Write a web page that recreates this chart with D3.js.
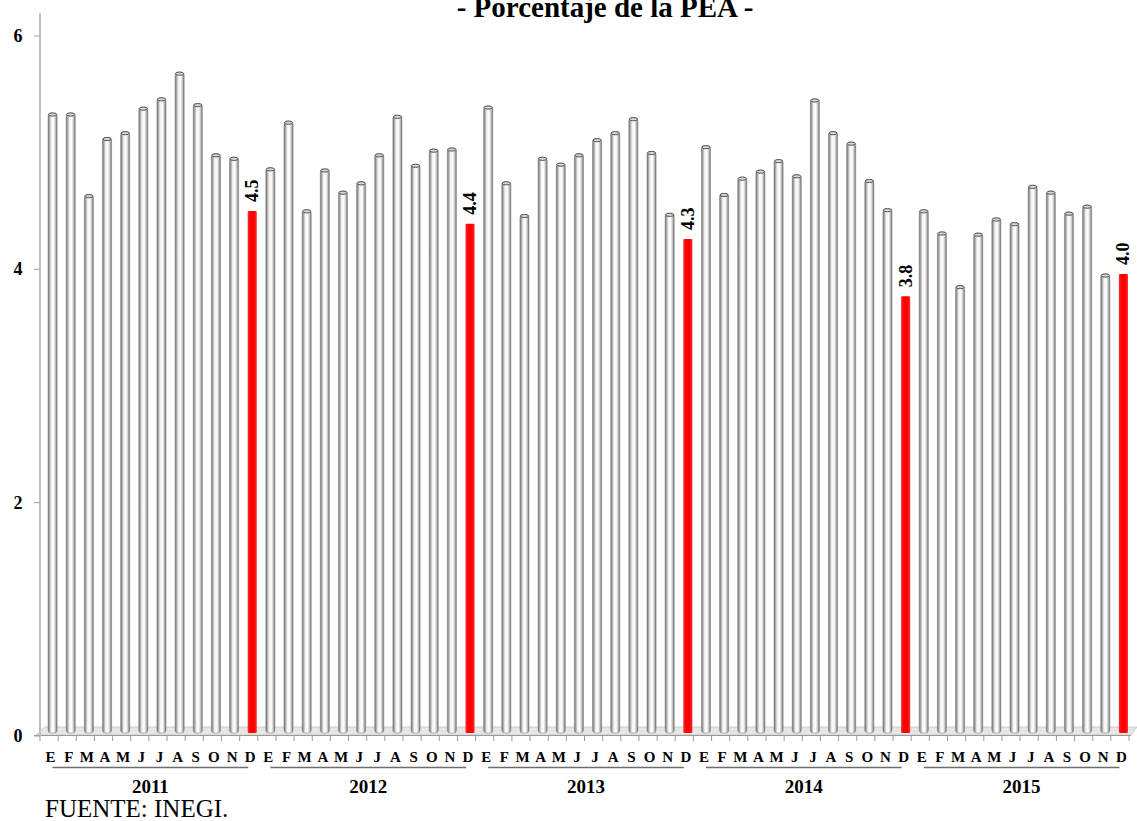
<!DOCTYPE html>
<html><head><meta charset="utf-8">
<script src="https://cdn.jsdelivr.net/npm/d3@7/dist/d3.min.js"></script>
<style>body{margin:0;background:#fff;}svg{display:block;font-family:"Liberation Serif","Times New Roman",serif;}</style>
</head><body>
<svg id="c" width="1137" height="821"></svg>
<script>
const title = "- Porcentaje de la PEA -";
const years = ["2011","2012","2013","2014","2015"];
const monthLabels = ["E","F","M","A","M","J","J","A","S","O","N","D"];
const v2011 = [5.34,5.34,4.64,5.13,5.18,5.39,5.47,5.69,5.42,4.99,4.96,4.50];
const v2012 = [4.87,5.27,4.51,4.86,4.67,4.75,4.99,5.32,4.90,5.03,5.04,4.39];
const v2013 = [5.40,4.75,4.47,4.96,4.91,4.99,5.12,5.18,5.30,5.01,4.48,4.26];
const v2014 = [5.06,4.65,4.79,4.85,4.94,4.81,5.46,5.18,5.09,4.77,4.52,3.77];
const v2015 = [4.51,4.32,3.86,4.31,4.44,4.40,4.72,4.67,4.49,4.55,3.96,3.96];
const decLabels = ["4.5","4.4","4.3","3.8","4.0"];
const yTicks = [0,2,4,6];
const source = "FUENTE: INEGI.";

const series = [v2011,v2012,v2013,v2014,v2015];
const data = [];
series.forEach((arr,yi)=>arr.forEach((v,mi)=>data.push({id:yi*12+mi, year:years[yi], m:mi, v:v, dec:mi===11, label: mi===11?decLabels[yi]:null})));

const svg = d3.select("#c");
const y = d3.scaleLinear().domain([0,6]).range([736,36]);
const x = d3.scaleBand().domain(data.map(d=>d.id)).range([43.5,1132.5]).paddingInner(0.5).paddingOuter(0.25);

const defs = svg.append("defs");
const g1 = defs.append("linearGradient").attr("id","cyl").attr("x1","0").attr("x2","1").attr("y1","0").attr("y2","0");
[[0,"#666"],[0.18,"#b0b0b0"],[0.35,"#f2f2f2"],[0.6,"#ffffff"],[0.8,"#c8c8c8"],[1,"#666"]].forEach(s=>g1.append("stop").attr("offset",s[0]).attr("stop-color",s[1]));
const g2 = defs.append("linearGradient").attr("id","red").attr("x1","0").attr("x2","1");
[[0,"#f03030"],[0.3,"#ff0000"],[0.7,"#ff0000"],[1,"#f03030"]].forEach(s=>g2.append("stop").attr("offset",s[0]).attr("stop-color",s[1]));

// title
svg.append("text").attr("x",605).attr("y",17).attr("text-anchor","middle").attr("font-weight","bold").attr("font-size",29).text(title);

// floor
svg.append("polygon").attr("points","45,727 1137,727 1131,735 36,735").attr("fill","#e6e6e6").attr("stroke","#cccccc");
svg.append("line").attr("x1",34).attr("x2",1131).attr("y1",735.5).attr("y2",735.5).attr("stroke","#9a9a9a").attr("stroke-width",1.2);
// floor ticks
const step = x.step();
d3.range(61).forEach(i=>{
  const xx = x.range()[0] + i*step - 3.5;
  svg.append("line").attr("x1",xx).attr("x2",xx).attr("y1",736).attr("y2",741).attr("stroke","#9a9a9a");
});

// y axis
svg.append("line").attr("x1",40).attr("x2",40).attr("y1",13).attr("y2",736).attr("stroke","#c0c0c0").attr("stroke-width",2);
yTicks.forEach(t=>{
  svg.append("line").attr("x1",34).attr("x2",40).attr("y1",y(t)).attr("y2",y(t)).attr("stroke","#a0a0a0");
  svg.append("text").attr("x",18).attr("y",y(t)+6).attr("text-anchor","middle").attr("font-weight","bold").attr("font-size",18).text(t);
});

// bars
const bw = x.bandwidth();
const bars = svg.append("g");
bars.selectAll("rect").data(data).join("rect")
  .attr("x",d=>x(d.id)).attr("width",bw)
  .attr("y",d=>y(d.v)).attr("height",d=>733-y(d.v))
  .attr("rx",d=>d.dec?1:3)
  .attr("fill",d=>d.dec?"url(#red)":"url(#cyl)")
  .attr("stroke",d=>d.dec?"none":"#8a8a8a").attr("stroke-width",0.6);
bars.selectAll("ellipse").data(data.filter(d=>!d.dec)).join("ellipse")
  .attr("cx",d=>x(d.id)+bw/2).attr("cy",d=>y(d.v)+1.5).attr("rx",bw/2-0.5).attr("ry",1.6)
  .attr("fill","#d8d8d8").attr("stroke","#444").attr("stroke-width",0.9);

// data labels on December bars
svg.selectAll("text.lab").data(data.filter(d=>d.dec)).join("text").attr("class","lab")
  .attr("transform",d=>`translate(${x(d.id)+bw/2+6},${y(d.v)-9}) rotate(-90)`)
  .attr("font-weight","bold").attr("font-size",18).text(d=>d.label);

// month labels
svg.selectAll("text.m").data(data).join("text").attr("class","m")
  .attr("x",d=>x(d.id)+bw/2-2).attr("y",762).attr("text-anchor","middle")
  .attr("font-weight","bold").attr("font-size",15).text(d=>monthLabels[d.m]);

// year groups
years.forEach((yr,i)=>{
  const x0 = x(i*12)+bw/2, x1 = x(i*12+11)+bw/2-4;
  svg.append("line").attr("x1",x0).attr("x2",x1).attr("y1",767.5).attr("y2",767.5).attr("stroke","#6e6e6e").attr("stroke-width",1.3);
  svg.append("text").attr("x",(x0+x1)/2).attr("y",793).attr("text-anchor","middle").attr("font-weight","bold").attr("font-size",19).text(yr);
});

svg.append("text").attr("x",45).attr("y",817).attr("font-size",25).text(source);
</script>
</body></html>
